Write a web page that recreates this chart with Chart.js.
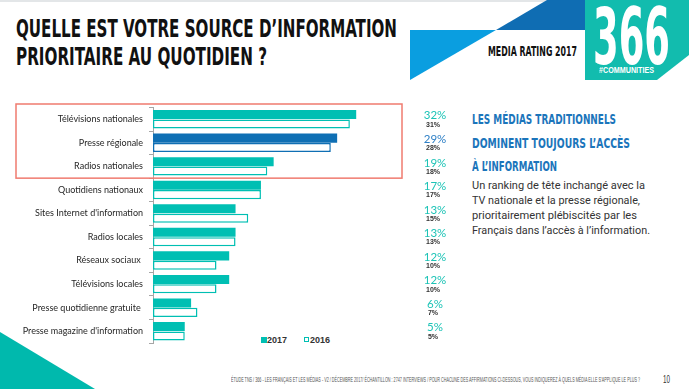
<!DOCTYPE html>
<html lang="fr">
<head>
<meta charset="utf-8">
<script src="https://cdn.jsdelivr.net/npm/chart.js@4/dist/chart.umd.min.js"></script>
<style>
  html, body { margin: 0; padding: 0; background: #fff; }
  #page { position: relative; width: 689px; height: 389px; overflow: hidden; background: #fff; }
  .t { position: absolute; white-space: nowrap; transform-origin: left top; }
  .cond { font-family: "Liberation Sans Narrow", "DejaVu Sans Condensed", sans-serif; font-weight: bold; }
  #chartBox { position: absolute; left: 0; top: 95px; width: 460px; height: 260px; }
</style>
</head>
<body>
<div id="page">
  <div style="position:absolute;left:0;top:0;width:689px;height:2px;background:#e3e6e8"></div>

  <!-- logo shapes -->
  <svg style="position:absolute;left:0;top:0" width="689" height="389">
    <polygon points="547,0 586,0 586,30 496,30" fill="#0f6db3"/>
    <polygon points="410,30 496,30 410,80" fill="#0a9ee0"/>
    <polygon points="585,0 689,0 689,55 657,80 585,80" fill="#12bcae"/>
    <polygon points="0,332 0,389 95,389" fill="#00b9ad"/>
  </svg>

  <!-- titre -->
  <div class="t cond" data-w="381" style="left:16px;top:18px;font-size:24px;line-height:23px;color:#111">QUELLE EST VOTRE SOURCE D’INFORMATION</div>
  <div class="t cond" data-w="251" style="left:16px;top:46px;font-size:24px;line-height:23px;color:#111">PRIORITAIRE AU QUOTIDIEN ?</div>

  <div class="t cond" data-w="89" style="left:488px;top:44px;font-size:14px;line-height:14px;color:#111">MEDIA RATING 2017</div>
  <div class="t cond" data-w="77" style="left:593px;top:-2px;font-size:78px;line-height:78px;color:#fff">366</div>
  <div class="t" data-w="55" style="left:599px;top:66px;font-family:'Liberation Sans',Arial,sans-serif;font-weight:bold;font-size:8.5px;line-height:9px;color:#fff">#COMMUNITIES</div>

  <!-- encadré texte -->
  <div class="t cond" data-w="144" style="left:472px;top:112px;font-size:14px;line-height:14px;color:#1b75bb">LES MÉDIAS TRADITIONNELS</div>
  <div class="t cond" data-w="158" style="left:472px;top:136px;font-size:14px;line-height:14px;color:#1b75bb">DOMINENT TOUJOURS L’ACCÈS</div>
  <div class="t cond" data-w="85" style="left:472px;top:159px;font-size:14px;line-height:14px;color:#1b75bb">À L’INFORMATION</div>

  <div class="t" data-w="173" style="left:472px;top:178px;font-family:Roboto,sans-serif;font-size:11.5px;line-height:14px;color:#333">Un ranking de tête inchangé avec la</div>
  <div class="t" data-w="168" style="left:472px;top:193px;font-family:Roboto,sans-serif;font-size:11.5px;line-height:14px;color:#333">TV nationale et la presse régionale,</div>
  <div class="t" data-w="165" style="left:472px;top:208px;font-family:Roboto,sans-serif;font-size:11.5px;line-height:14px;color:#333">prioritairement plébiscités par les</div>
  <div class="t" data-w="178" style="left:472px;top:223px;font-family:Roboto,sans-serif;font-size:11.5px;line-height:14px;color:#333">Français dans l’accès à l’information.</div>

  <!-- légende -->
  <div style="position:absolute;left:261px;top:337px;width:6px;height:6px;background:#00bfb3"></div>
  <div class="t" style="left:267px;top:335px;font-family:'Liberation Sans',Arial,sans-serif;font-weight:bold;font-size:9px;line-height:10px;color:#333">2017</div>
  <div style="position:absolute;left:304px;top:337px;width:3px;height:3px;border:1.5px solid #00bfb3;background:#fff"></div>
  <div class="t" style="left:310px;top:335px;font-family:'Liberation Sans',Arial,sans-serif;font-weight:bold;font-size:9px;line-height:10px;color:#333">2016</div>

  <!-- pied de page -->
  <div class="t" data-w="409" style="left:231px;top:376px;font-family:'Liberation Sans Narrow',sans-serif;font-size:6.5px;line-height:8px;color:#555">ÉTUDE TNS / 366 - LES FRANÇAIS ET LES MÉDIAS - V2 / DÉCEMBRE 2017/ ÉCHANTILLON : 2747 INTERVIEWS / POUR CHACUNE DES AFFIRMATIONS CI-DESSOUS, VOUS INDIQUEREZ À QUELS MÉDIA ELLE S’APPLIQUE LE PLUS ?</div>
  <div class="t" data-w="7" style="left:663px;top:374px;font-family:'Liberation Sans Narrow',sans-serif;font-size:10px;line-height:11px;color:#333">10</div>

  <div id="chartBox"><canvas id="barChart" width="460" height="260"></canvas></div>
</div>

<script>
// Données
const categories = [
    'Télévisions nationales', 'Presse régionale', 'Radios nationales', 'Quotidiens nationaux',
    "Sites Internet d'information", 'Radios locales', 'Réseaux sociaux ', 'Télévisions locales',
    'Presse quotidienne gratuite ', "Presse magazine d'information"
];
const values2017 = [32, 29, 19, 17, 13, 13, 12, 12, 6, 5];
const values2016 = [31, 28, 18, 17, 15, 13, 10, 10, 7, 5];
const highlighted = [0, 1, 2]; // lignes encadrées en rouge

const teal = '#00bfb3';
const blue = '#0f6fb4';
const colorFor = i => (i === 1 ? blue : teal);

// ajuste la largeur des textes HTML
document.querySelectorAll('[data-w]').forEach(el => {
    const w = +el.dataset.w;
    const r = el.getBoundingClientRect().width;
    if (r > 0) el.style.transform = 'scaleX(' + (w / r) + ')';
});

// encadré rouge + pourcentages à droite
const extrasPlugin = {
    id: 'extras',
    afterDatasetsDraw(chart) {
        const ctx = chart.ctx;
        const y = chart.scales.y;
        const row = y.getPixelForValue(1) - y.getPixelForValue(0);

        const first = highlighted[0], last = highlighted[highlighted.length - 1];
        const top = y.getPixelForValue(first) - row / 2 - 3.5;
        const bottom = y.getPixelForValue(last) + row / 2;
        ctx.save();
        ctx.strokeStyle = '#f07b6f';
        ctx.lineWidth = 1.5;
        ctx.strokeRect(16, top, 386, bottom - top);

        ctx.textAlign = 'center';
        ctx.textBaseline = 'middle';
        categories.forEach((c, i) => {
            const py = y.getPixelForValue(i);
            ctx.fillStyle = i === 1 ? '#2f80c6' : '#1cc3b6';
            ctx.font = '11.5px Lato, sans-serif';
            ctx.fillText(values2017[i] + '%', 435, py - 3.5);
            ctx.fillStyle = '#333';
            ctx.font = 'bold 7px "Liberation Sans", Arial, sans-serif';
            ctx.fillText(values2016[i] + '%', 433, py + 5.5);
        });
        ctx.restore();
    }
};

const barData = {
    labels: categories,
    datasets: [{
        label: '2017',
        data: values2017,
        backgroundColor: c => colorFor(c.dataIndex),
        borderWidth: 0,
        barPercentage: 0.96,
        categoryPercentage: 0.8
    }, {
        label: '2016',
        data: values2016,
        backgroundColor: '#ffffff',
        borderColor: c => colorFor(c.dataIndex),
        borderWidth: 1.5,
        borderSkipped: false,
        barPercentage: 0.96,
        categoryPercentage: 0.8
    }]
};

const barConfig = {
    type: 'bar',
    data: barData,
    options: {
        indexAxis: 'y',
        responsive: false,
        animation: false,
        layout: { padding: { top: 12.5, bottom: 12, left: 0, right: 53 } },
        plugins: {
            legend: { display: false },
            tooltip: { enabled: false }
        },
        scales: {
            x: { display: false, min: 0, max: 40 },
            y: {
                afterFit: s => { s.width = 153; },
                grid: { drawOnChartArea: false, drawTicks: true, tickLength: 4, offset: true, color: '#a6a6a6' },
                border: { color: '#a6a6a6' },
                ticks: { padding: 6, color: '#262626', font: { family: 'Lato', size: 9 } }
            }
        }
    },
    plugins: [extrasPlugin]
};

new Chart(document.getElementById('barChart').getContext('2d'), barConfig);
</script>
</body>
</html>
